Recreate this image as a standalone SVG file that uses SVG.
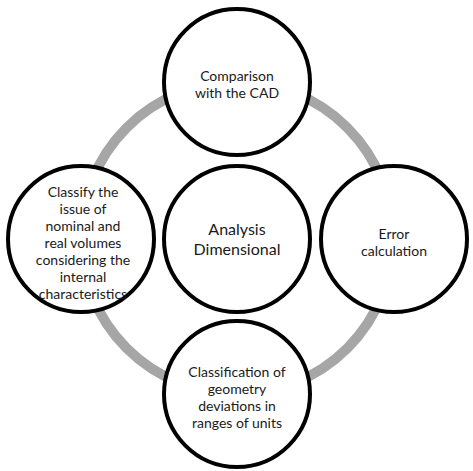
<svg xmlns="http://www.w3.org/2000/svg" width="473" height="471" viewBox="0 0 473 471">
  <style>
    .node { fill: #ffffff; stroke: #000000; stroke-width: 4; }
    .ring { fill: none; stroke: #a6a6a6; stroke-width: 10; }
    .lbl { font-family: Lato, "Open Sans", "Liberation Sans", sans-serif; font-size: 14px; fill: #1a1a1a; text-anchor: middle; }
    .big { font-size: 16px; }
  </style>
  <rect width="473" height="471" fill="#ffffff"/>
  <!-- grey cycle ring linking the outer nodes -->
  <g id="connectors">
    <circle class="ring" cx="237" cy="238" r="156"/>
  </g>
  <g id="center">
    <circle class="node" cx="237" cy="239" r="73"/>
    <text class="lbl big" x="237" y="235">Analysis</text>
    <text class="lbl big" x="237" y="255">Dimensional</text>
  </g>
  <g id="top">
    <circle class="node" cx="237" cy="82" r="73"/>
    <text class="lbl" x="237" y="81">Comparison</text>
    <text class="lbl" x="237" y="98">with the CAD</text>
  </g>
  <g id="right">
    <circle class="node" cx="394" cy="239" r="73"/>
    <text class="lbl" x="394" y="239">Error</text>
    <text class="lbl" x="394" y="256">calculation</text>
  </g>
  <g id="bottom">
    <circle class="node" cx="237" cy="394" r="73"/>
    <text class="lbl" x="237" y="377">Classification of</text>
    <text class="lbl" x="237" y="394">geometry</text>
    <text class="lbl" x="237" y="411">deviations in</text>
    <text class="lbl" x="237" y="428">ranges of units</text>
  </g>
  <g id="left">
    <circle class="node" cx="81" cy="239" r="73"/>
    <text class="lbl" x="83" y="197">Classify the</text>
    <text class="lbl" x="83" y="214">issue of</text>
    <text class="lbl" x="83" y="231">nominal and</text>
    <text class="lbl" x="83" y="248">real volumes</text>
    <text class="lbl" x="83" y="265">considering the</text>
    <text class="lbl" x="83" y="282">internal</text>
    <text class="lbl" x="83" y="299">characteristics</text>
  </g>
</svg>
